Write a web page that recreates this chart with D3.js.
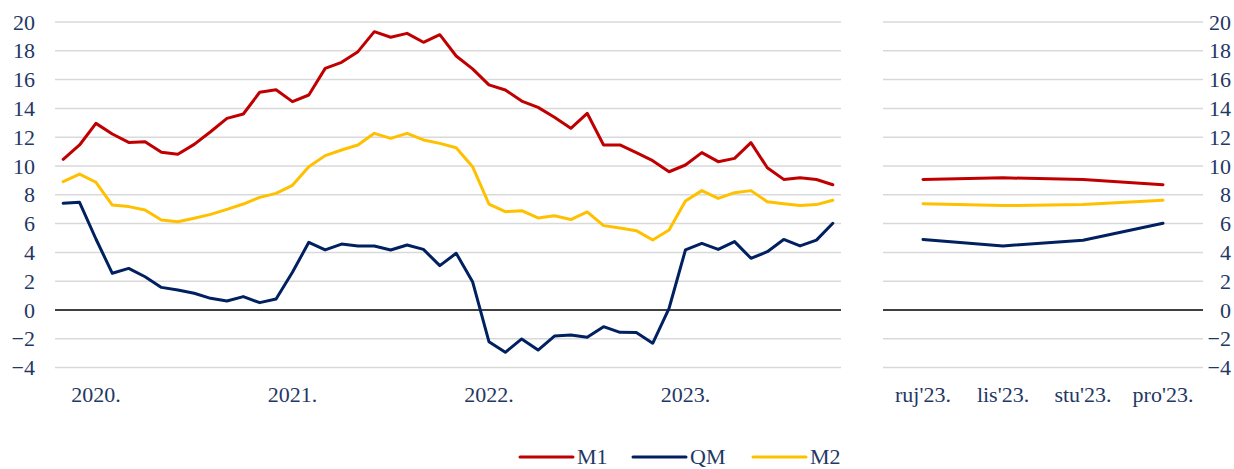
<!DOCTYPE html>
<html lang="hr">
<head>
    <meta charset="UTF-8">
    <title>M1, QM, M2</title>
    <script src="https://d3js.org/d3.v7.min.js"></script>
    <style>
        body { margin: 0; background: #fff; }
        text { font-family: "Liberation Serif", "Times New Roman", serif; fill: #1F3864; }
        .grid line { stroke: #D9D9D9; stroke-width: 1.5px; }
        .zero { stroke: #000; stroke-width: 1.5px; }
        .series { fill: none; stroke-width: 3px; stroke-linejoin: round; stroke-linecap: round; }
    </style>
</head>
<body>
<script>
    // monthly values, Jan 2020 - Dec 2023
    const months = d3.range(48).map(i => d3.timeFormat("%Y-%m")(new Date(2020, i, 1)));

    const m1 = [10.46, 11.46, 12.96, 12.22, 11.64, 11.69, 10.95, 10.81, 11.5, 12.38, 13.31, 13.61,
                15.12, 15.3, 14.47, 14.93, 16.78, 17.2, 17.94, 19.33, 18.94, 19.21, 18.59, 19.12,
                17.64, 16.74, 15.63, 15.28, 14.51, 14.07, 13.38, 12.62, 13.66, 11.46, 11.46, 10.93,
                10.37, 9.6, 10.07, 10.93, 10.3, 10.53, 11.62, 9.88, 9.07, 9.18, 9.06, 8.7];

    const qm = [7.41, 7.48, 4.93, 2.55, 2.89, 2.31, 1.57, 1.39, 1.16, 0.81, 0.63, 0.93,
                0.51, 0.76, 2.62, 4.7, 4.17, 4.58, 4.44, 4.44, 4.17, 4.51, 4.21, 3.08,
                3.94, 1.97, -2.2, -2.94, -2.01, -2.78, -1.81, -1.74, -1.9, -1.16, -1.55, -1.57,
                -2.31, 0.12, 4.17, 4.63, 4.21, 4.75, 3.59, 4.05, 4.9, 4.45, 4.85, 6.02];

    const m2 = [8.91, 9.44, 8.87, 7.29, 7.18, 6.94, 6.25, 6.13, 6.37, 6.64, 6.99, 7.36,
                7.82, 8.1, 8.66, 9.95, 10.72, 11.11, 11.46, 12.27, 11.92, 12.27, 11.81, 11.57,
                11.27, 9.95, 7.36, 6.83, 6.9, 6.39, 6.55, 6.28, 6.81, 5.86, 5.69, 5.51,
                4.86, 5.56, 7.57, 8.29, 7.75, 8.15, 8.29, 7.52, 7.38, 7.25, 7.32, 7.62];

    const zoomLabels = ["ruj'23.", "lis'23.", "stu'23.", "pro'23."];
    const yTicks = [-4, -2, 0, 2, 4, 6, 8, 10, 12, 14, 16, 18, 20];

    const series = [
        { name: "M1", values: m1, color: "#C00000" },
        { name: "QM", values: qm, color: "#002060" },
        { name: "M2", values: m2, color: "#FFC000" }
    ];

    const width = 1234, height = 469;
    const fontSize = 22;
    const svg = d3.select("body").append("svg")
        .attr("width", width)
        .attr("height", height);

    const y = d3.scaleLinear().domain([-4, 20]).range([367.6, 22]);

    const xLeft = d3.scaleBand().domain(months).range([55, 841]);
    const xRight = d3.scaleBand().domain(zoomLabels).range([883, 1203]);

    function panel(x, cats, sliceFrom) {
        const [x0, x1] = x.range();
        const g = svg.append("g");

        g.append("g").attr("class", "grid")
            .selectAll("line")
            .data(yTicks.filter(t => t !== 0))
            .join("line")
            .attr("x1", x0).attr("x2", x1)
            .attr("y1", d => y(d)).attr("y2", d => y(d));

        g.append("line").attr("class", "zero")
            .attr("x1", x0).attr("x2", x1)
            .attr("y1", y(0)).attr("y2", y(0));

        series.forEach(s => {
            const vals = s.values.slice(sliceFrom);
            const line = d3.line()
                .x((d, i) => x(cats[i]) + x.bandwidth() / 2)
                .y(d => y(d));
            g.append("path")
                .attr("class", "series")
                .attr("stroke", s.color)
                .attr("d", line(vals));
        });
        return g;
    }

    panel(xLeft, months, 0);
    panel(xRight, zoomLabels, 44);

    // y axes
    const yAxisL = d3.axisLeft(y).tickValues(yTicks).tickSize(0).tickPadding(0);
    svg.append("g").attr("transform", "translate(35,0)").call(yAxisL)
        .call(g => g.select(".domain").remove());

    const yAxisR = d3.axisLeft(y).tickValues(yTicks).tickSize(0).tickPadding(0);
    svg.append("g").attr("transform", "translate(1231,0)").call(yAxisR)
        .call(g => g.select(".domain").remove());

    // x axes
    const xAxisL = d3.axisBottom(xLeft)
        .tickValues(months.filter((m, i) => i % 12 === 2))
        .tickFormat(m => m.slice(0, 4) + ".")
        .tickSize(0).tickPadding(0);
    svg.append("g").attr("transform", "translate(0,386)").call(xAxisL)
        .call(g => g.select(".domain").remove());

    const xAxisR = d3.axisBottom(xRight).tickSize(0).tickPadding(0);
    svg.append("g").attr("transform", "translate(0,386)").call(xAxisR)
        .call(g => g.select(".domain").remove());

    svg.selectAll(".tick text")
        .attr("font-family", "Liberation Serif")
        .attr("font-size", fontSize)
        .attr("fill", "#1F3864");

    // legend
    const legendX = [520, 633, 753];
    const legend = svg.append("g");
    series.forEach((s, i) => {
        const lg = legend.append("g").attr("transform", `translate(${legendX[i]},457)`);
        lg.append("line")
            .attr("x1", 0).attr("x2", 53)
            .attr("stroke", s.color).attr("stroke-width", 3).attr("stroke-linecap", "round");
        lg.append("text")
            .attr("x", 57).attr("y", 7)
            .attr("font-size", fontSize)
            .text(s.name);
    });
</script>
</body>
</html>
